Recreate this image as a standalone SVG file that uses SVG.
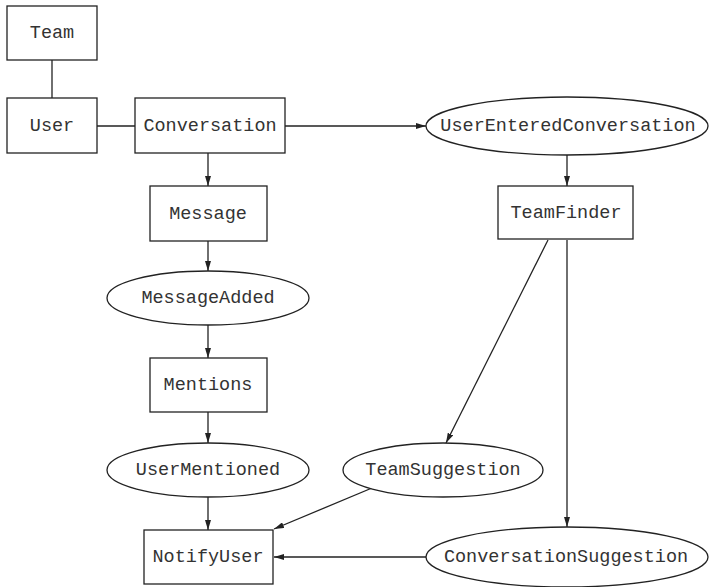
<svg xmlns="http://www.w3.org/2000/svg" width="710" height="587" viewBox="0 0 710 587">
  <style>
    .box { fill: #fff; stroke: #222; stroke-width: 1.3; }
    .lbl { font-family: "Liberation Mono", "Courier New", monospace; font-size: 18.5px; fill: #333; text-anchor: middle; dominant-baseline: central; }
    .edge { fill: none; stroke: #222; stroke-width: 1.3; }
    .arrow { marker-end: url(#head); }
  </style>
  <defs>
    <marker id="head" viewBox="0 0 10 6" refX="10" refY="3" markerWidth="10" markerHeight="6" markerUnits="userSpaceOnUse" orient="auto">
      <path d="M0,0 L10,3 L0,6 Z" fill="#222"/>
    </marker>
  </defs>
  <rect width="710" height="587" fill="#fff"/>

  <g id="connectors">
    <line class="edge" x1="52" y1="60" x2="52" y2="98"/>
    <line class="edge" x1="97" y1="126" x2="135" y2="126"/>
    <line class="edge arrow" x1="285" y1="126" x2="426" y2="126"/>
    <line class="edge arrow" x1="208" y1="153" x2="208" y2="186"/>
    <line class="edge arrow" x1="208" y1="241" x2="208" y2="271"/>
    <line class="edge arrow" x1="208" y1="325" x2="208" y2="358"/>
    <line class="edge arrow" x1="208" y1="412" x2="208" y2="443"/>
    <line class="edge arrow" x1="208" y1="497" x2="208" y2="530"/>
    <line class="edge arrow" x1="567" y1="155" x2="567" y2="186"/>
    <line class="edge arrow" x1="548" y1="240" x2="446" y2="443"/>
    <line class="edge arrow" x1="567" y1="240" x2="567" y2="527"/>
    <line class="edge arrow" x1="372" y1="488" x2="274" y2="529"/>
    <line class="edge arrow" x1="426" y1="557" x2="274" y2="557"/>
  </g>

  <g id="team">
    <rect class="box" x="7" y="6" width="90" height="54"/>
    <text class="lbl" x="52" y="33">Team</text>
  </g>
  <g id="user">
    <rect class="box" x="7" y="98" width="90" height="55"/>
    <text class="lbl" x="52" y="126">User</text>
  </g>
  <g id="conversation">
    <rect class="box" x="135" y="98" width="150" height="55"/>
    <text class="lbl" x="210" y="126">Conversation</text>
  </g>
  <g id="user-entered-conversation">
    <ellipse class="box" cx="567" cy="126" rx="141" ry="29"/>
    <text class="lbl" x="568" y="126">UserEnteredConversation</text>
  </g>
  <g id="team-finder">
    <rect class="box" x="498" y="186" width="135" height="53"/>
    <text class="lbl" x="566" y="213">TeamFinder</text>
  </g>
  <g id="message">
    <rect class="box" x="150" y="186" width="117" height="55"/>
    <text class="lbl" x="208" y="214">Message</text>
  </g>
  <g id="message-added">
    <ellipse class="box" cx="208" cy="298" rx="101" ry="27"/>
    <text class="lbl" x="208" y="298">MessageAdded</text>
  </g>
  <g id="mentions">
    <rect class="box" x="150" y="358" width="117" height="54"/>
    <text class="lbl" x="208" y="385">Mentions</text>
  </g>
  <g id="user-mentioned">
    <ellipse class="box" cx="208" cy="470" rx="101" ry="27"/>
    <text class="lbl" x="208" y="470">UserMentioned</text>
  </g>
  <g id="team-suggestion">
    <ellipse class="box" cx="443" cy="470" rx="100" ry="27"/>
    <text class="lbl" x="443" y="470">TeamSuggestion</text>
  </g>
  <g id="notify-user">
    <rect class="box" x="144" y="530" width="129" height="54"/>
    <text class="lbl" x="208" y="557">NotifyUser</text>
  </g>
  <g id="conversation-suggestion">
    <ellipse class="box" cx="567" cy="557" rx="141" ry="30"/>
    <text class="lbl" x="566" y="557">ConversationSuggestion</text>
  </g>
</svg>
